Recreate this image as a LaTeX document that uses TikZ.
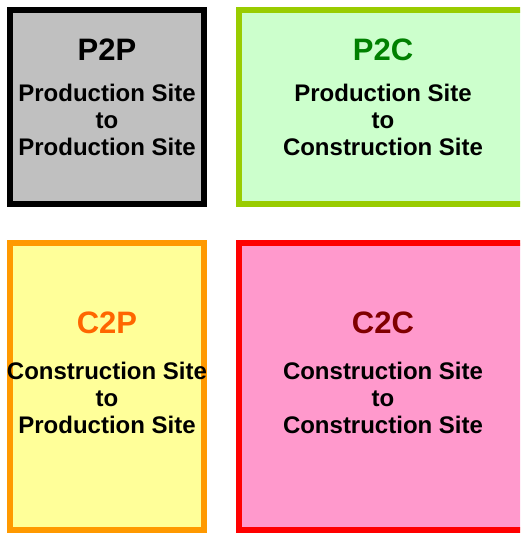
\documentclass[tikz,border=0pt]{standalone}
\usepackage{fontspec}
\setmainfont{Liberation Sans}
\usepackage{tikz}
\usepackage{xcolor}

\definecolor{boxgray}{HTML}{C0C0C0}
\definecolor{palegreen}{HTML}{CCFFCC}
\definecolor{limegreen}{HTML}{99CC00}
\definecolor{darkgreen}{HTML}{008000}
\definecolor{paleyellow}{HTML}{FFFF99}
\definecolor{lightorange}{HTML}{FF9900}
\definecolor{deeporange}{HTML}{FF6600}
\definecolor{pink}{HTML}{FF99CC}
\definecolor{darkred}{HTML}{800000}

\tikzset{
  sitebox/.style={line width=6pt},
  sitetitle/.style={font=\bfseries\fontsize{31}{31}\selectfont, anchor=base, inner sep=0pt},
  sitetext/.style={font=\bfseries\fontsize{24}{27}\selectfont, align=center, anchor=base, inner sep=0pt}
}

\begin{document}
\begin{tikzpicture}[x=1pt,y=-1pt]
      \useasboundingbox (0,0) rectangle (520,533);
      \clip (0,0) rectangle (520,533);

      % the four boxes, right and bottom ones run off the edge
      \draw[sitebox, draw=black, fill=boxgray] (10,10) rectangle (204,204);
      \draw[sitebox, draw=limegreen, fill=palegreen] (239,10) rectangle (528,204);
      \draw[sitebox, draw=lightorange, fill=paleyellow] (10,243) rectangle (204,530);
      \draw[sitebox, draw=red, fill=pink] (239,243) rectangle (528,530);

      % top left: P2P (text base is the last line)
      \node[sitetitle] (p2p) at (107,60) {P2P};
      \node[sitetext] (p2p text) at (107,155) {Production Site\\to\\Production Site};

      % top right: P2C
      \node[sitetitle, text=darkgreen] (p2c) at (383,60) {P2C};
      \node[sitetext] (p2c text) at (383,155) {Production Site\\to\\Construction Site};

      % bottom left: C2P
      \node[sitetitle, text=deeporange] (c2p) at (107,333) {C2P};
      \node[sitetext] (c2p text) at (107,433) {Construction Site\\to\\Production Site};

      % bottom right: C2C
      \node[sitetitle, text=darkred] (c2c) at (383,333) {C2C};
      \node[sitetext] (c2c text) at (383,433) {Construction Site\\to\\Construction Site};
\end{tikzpicture}
\end{document}
